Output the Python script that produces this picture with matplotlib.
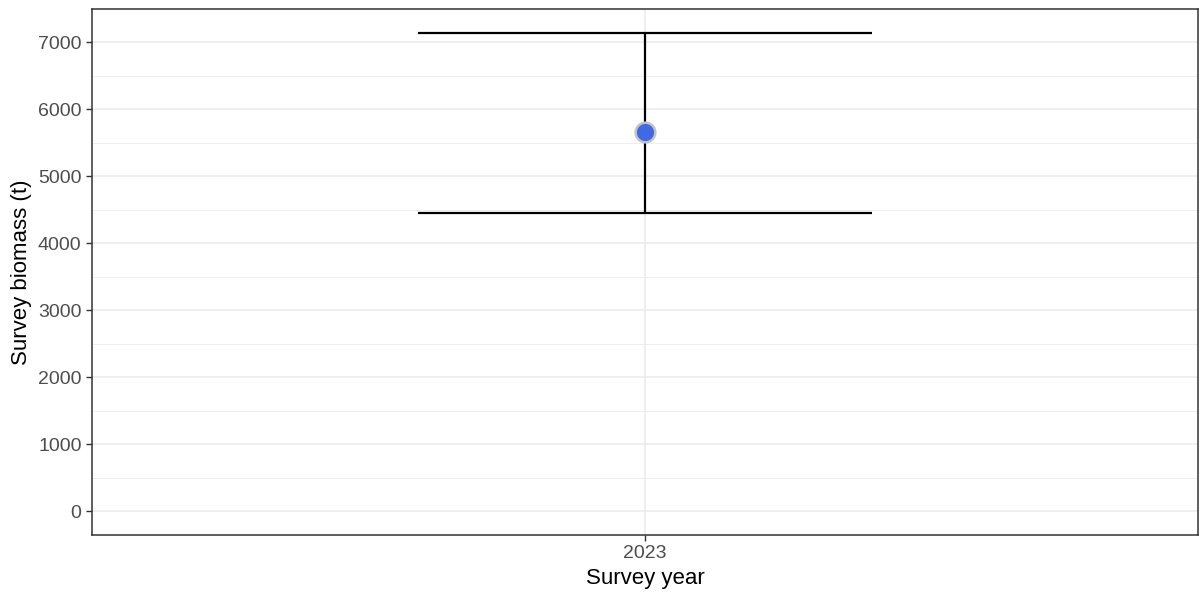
import matplotlib
matplotlib.use("Agg")
import matplotlib.pyplot as plt
from matplotlib.ticker import MultipleLocator

years = ["2023"]
biomass = [5660]
lower = [4450]
upper = [7140]

plt.rcParams["font.family"] = ["Liberation Sans", "DejaVu Sans"]

fig = plt.figure(figsize=(12.02, 5.95), dpi=100)
ax = fig.add_axes([92 / 1202, 60 / 595, 1106 / 1202, 526 / 595])

xpos = list(range(1, len(years) + 1))
half = 0.246
for x, lo, hi in zip(xpos, lower, upper):
    ax.plot([x, x], [lo, hi], color="black", lw=1.6, zorder=3, solid_capstyle="butt")
    ax.plot([x - half, x + half], [lo, lo], color="black", lw=1.6, zorder=3, solid_capstyle="butt")
    ax.plot([x - half, x + half], [hi, hi], color="black", lw=1.6, zorder=3, solid_capstyle="butt")
ax.scatter(xpos, biomass, s=200, color="royalblue", edgecolor="#c4c4c4", linewidth=1.8, zorder=4)

ax.set_xlim(0.4, len(years) + 0.6)
span = max(upper) - 0
ax.set_ylim(-0.05 * span, max(upper) + 0.05 * span)
ax.set_xticks(xpos)
ax.set_xticklabels(years)
ax.yaxis.set_major_locator(MultipleLocator(1000))
ax.yaxis.set_minor_locator(MultipleLocator(500))

ax.grid(True, which="major", color="#ebebeb", lw=1.1, zorder=0)
ax.grid(True, which="minor", axis="y", color="#ebebeb", lw=0.6, zorder=0)
ax.set_axisbelow(True)
for s in ax.spines.values():
    s.set_color("#333333")
    s.set_linewidth(1.1)
ax.tick_params(axis="both", which="major", colors="#333333", labelcolor="#4d4d4d",
               labelsize=14, length=4.5, width=1.0, pad=3)
ax.tick_params(axis="y", which="minor", length=0)

ax.set_xlabel("Survey year", fontsize=16, color="black", labelpad=4)
ax.set_ylabel("Survey biomass (t)", fontsize=16, color="black", labelpad=4)

fig.savefig("out.png", dpi=100, facecolor="white")
